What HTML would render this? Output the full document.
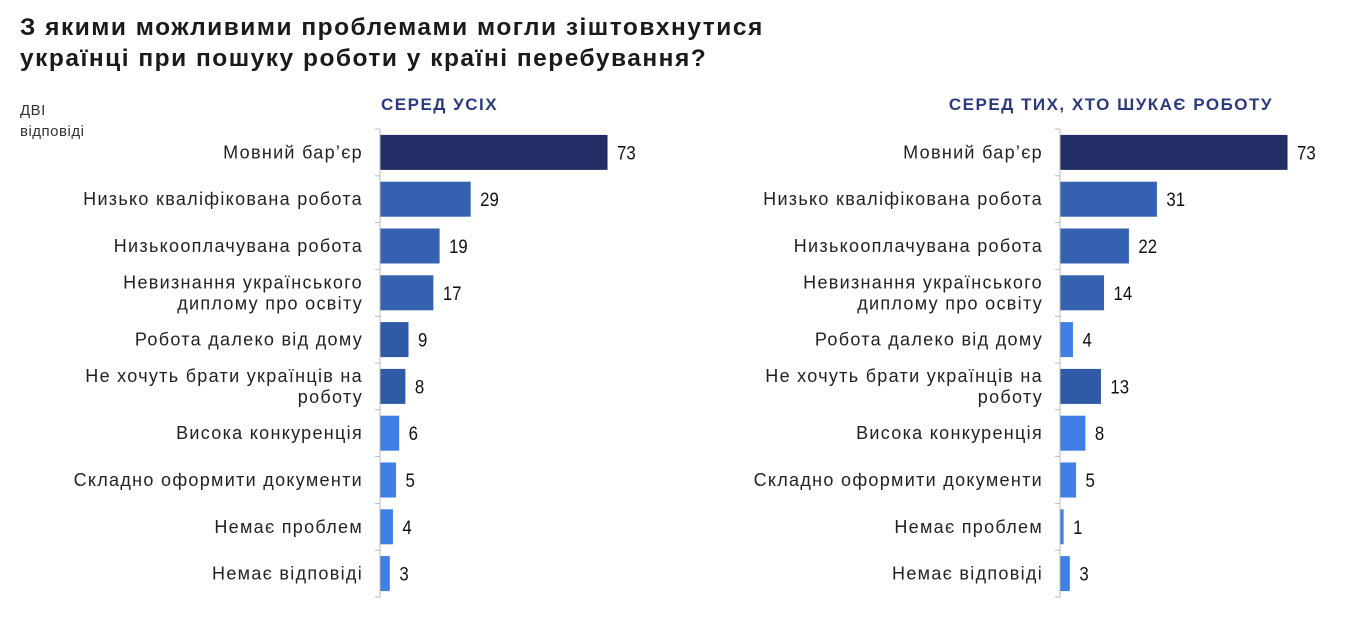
<!DOCTYPE html>
<html><head><meta charset="utf-8"><style>
body{margin:0;width:1349px;height:630px;background:#fff;overflow:hidden;font-family:"Liberation Sans","Noto Sans CJK SC",sans-serif;position:relative}
.t{position:absolute;left:20px;top:12px;font-size:24.5px;font-weight:bold;color:#1a1a1a;line-height:31px;letter-spacing:1.5px}
.h{position:absolute;font-size:17px;font-weight:bold;color:#2b3a7e;top:95px;letter-spacing:1.5px}
.n{position:absolute;left:20px;top:100px;font-size:15px;color:#333;line-height:21px;letter-spacing:0.5px}
</style></head><body>
<div class="t">З якими можливими проблемами могли зіштовхнутися<br>українці при пошуку роботи у країні перебування?</div>
<div class="n">ДВІ<br>відповіді</div>
<div class="h" style="left:381px">СЕРЕД УСІХ</div>
<div class="h" style="right:76px">СЕРЕД ТИХ, ХТО ШУКАЄ РОБОТУ</div>
<svg id="c" width="1349" height="630" style="position:absolute;left:0;top:0"></svg>
<script>
const categories=["Мовний бар’єр","Низько кваліфікована робота","Низькооплачувана робота","Невизнання українського|диплому про освіту","Робота далеко від дому","Не хочуть брати українців на|роботу","Висока конкуренція","Складно оформити документи","Немає проблем","Немає відповіді"];
const valuesAll=[73,29,19,17,9,8,6,5,4,3];
const valuesSeekers=[73,31,22,14,4,13,8,5,1,3];
const colorsAll=["#232f66","#3461b0","#3461b0","#3461b0","#2f5aa6","#2f5aa6","#3f7fe6","#3f7fe6","#3f7fe6","#3f7fe6"];
const colorsSeekers=["#232f66","#3461b0","#3461b0","#3461b0","#3f7fe6","#2f5aa6","#3f7fe6","#3f7fe6","#3f7fe6","#3f7fe6"];
const svg=document.getElementById('c');const NS="http://www.w3.org/2000/svg";
function mk(t,a){const e=document.createElementNS(NS,t);for(const k in a)e.setAttribute(k,a[k]);svg.appendChild(e);return e;}
const top0=129,pitch=46.8,bh=35,scale=3.11;
function y(i){return top0+i*pitch+pitch/2;}
function draw(ax,vals,cols,side){
  const axis=mk('line',{x1:ax,x2:ax,y1:top0,y2:top0+pitch*10,stroke:'#bbb','stroke-width':1});
  
  
  for(let i=0;i<=10;i++){const tk=mk('line',{x1:ax-5,x2:ax,y1:top0+i*pitch,y2:top0+i*pitch,stroke:'#bbb'});
    
    }
  vals.forEach((v,i)=>{
    const r=mk('rect',{x:ax+0.5,y:y(i)-bh/2,width:Math.max(v*scale,1.5),height:bh,fill:cols[i]});
    
    
    const vx=ax+v*scale+10;
    const tv=mk('text',{x:vx,y:y(i)+7,'font-size':19.5,fill:'#111',
      transform:'translate('+vx+' 0) scale(0.86 1) translate('+(-vx)+' 0)'});
    tv.textContent=v;
    
    
    const parts=categories[i].split('|');
    parts.forEach((p,j)=>{
      const tl=mk('text',{x:ax-17,y:y(i)+6+(j-(parts.length-1)/2)*21,'font-size':18,fill:'#222','text-anchor':'end','letter-spacing':'1.3'});
      tl.textContent=p;
      
      
    });
  });
}
draw(380,valuesAll,colorsAll,'left');
draw(1060,valuesSeekers,colorsSeekers,'right');
</script>
</body></html>
